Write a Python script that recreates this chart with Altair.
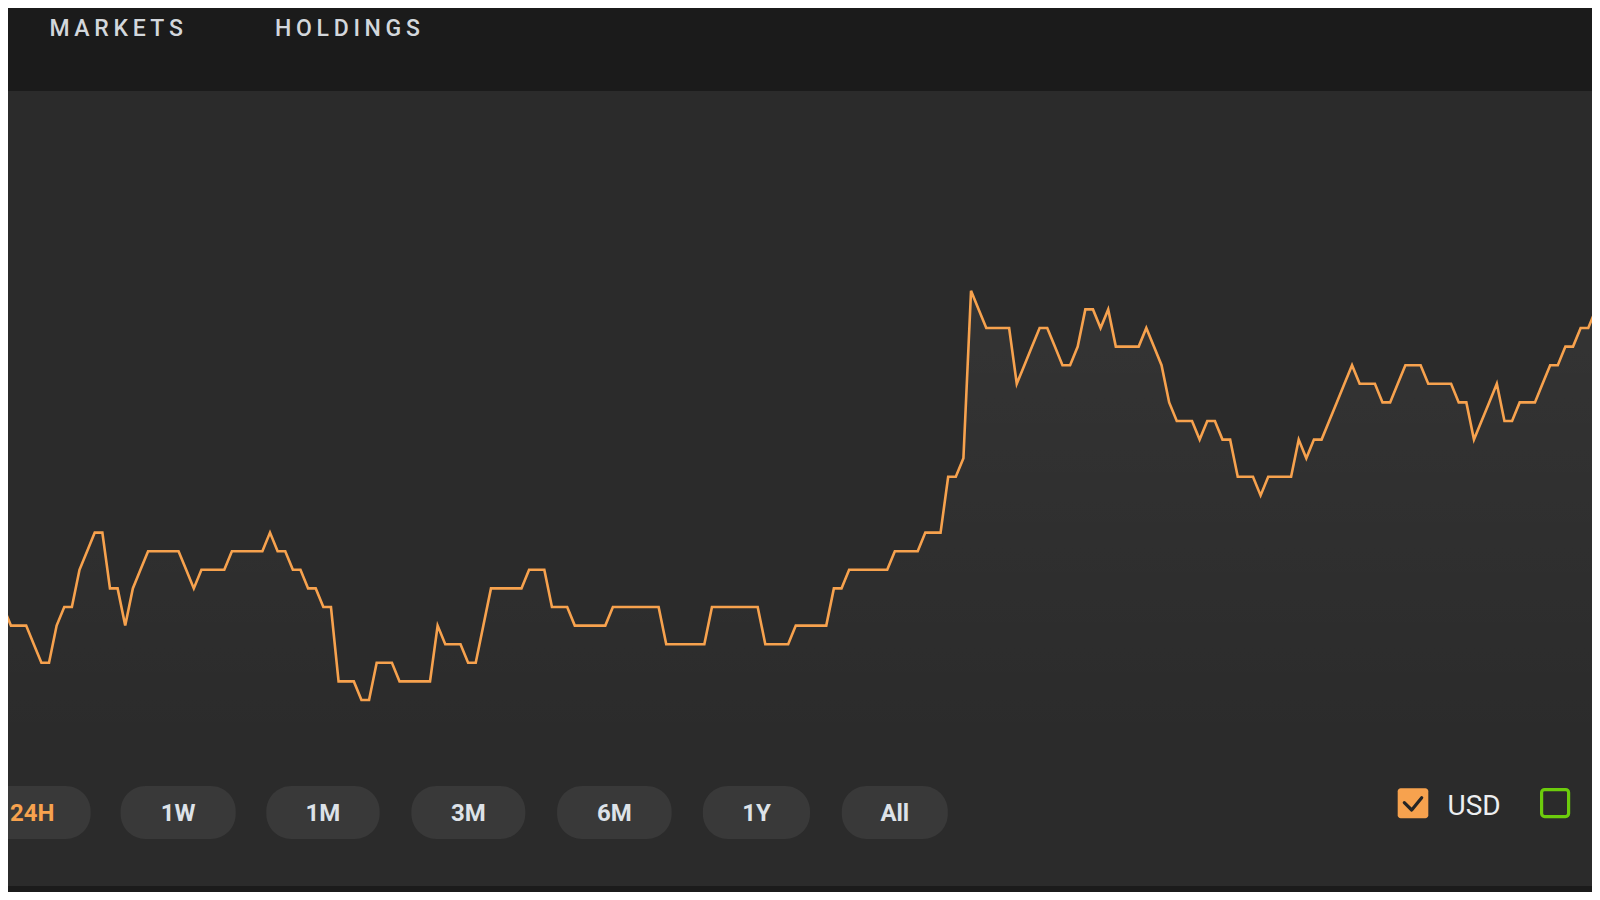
import altair as alt
import pandas as pd

# ---------------- data ----------------
PRICE = [
    5, 4, 4, 4, 3, 2, 2, 4, 5, 5,
    7, 8, 9, 9, 6, 6, 4, 6, 7, 8,
    8, 8, 8, 8, 7, 6, 7, 7, 7, 7,
    8, 8, 8, 8, 8, 9, 8, 8, 7, 7,
    6, 6, 5, 5, 1, 1, 1, 0, 0, 2,
    2, 2, 1, 1, 1, 1, 1, 4, 3, 3,
    3, 2, 2, 4, 6, 6, 6, 6, 6, 7,
    7, 7, 5, 5, 5, 4, 4, 4, 4, 4,
    5, 5, 5, 5, 5, 5, 5, 3, 3, 3,
    3, 3, 3, 5, 5, 5, 5, 5, 5, 5,
    3, 3, 3, 3, 4, 4, 4, 4, 4, 6,
    6, 7, 7, 7, 7, 7, 7, 8, 8, 8,
    8, 9, 9, 9, 12, 12, 13, 22, 21, 20,
    20, 20, 20, 17, 18, 19, 20, 20, 19, 18,
    18, 19, 21, 21, 20, 21, 19, 19, 19, 19,
    20, 19, 18, 16, 15, 15, 15, 14, 15, 15,
    14, 14, 12, 12, 12, 11, 12, 12, 12, 12,
    14, 13, 14, 14, 15, 16, 17, 18, 17, 17,
    17, 16, 16, 17, 18, 18, 18, 17, 17, 17,
    17, 16, 16, 14, 15, 16, 17, 15, 15, 16,
    16, 16, 17, 18, 18, 19, 19, 20, 20, 21,
]
NAV_LABELS = ["MARKETS", "HOLDINGS"]
RANGE_LABELS = ["24H", "1W", "1M", "3M", "6M", "1Y", "All"]
ACTIVE_RANGE = "24H"
LEGEND_LABELS = ["USD"]

# ---------------- layout / style ----------------
W, H = 1584, 884
BG = "#2b2b2b"
BAR = "#1b1b1b"
ORANGE = "#f7a24e"
GREEN = "#6ccc0c"
FONT = "Roboto, 'Open Sans', 'DejaVu Sans', sans-serif"

# scale mapping (pixels of the plot)
X_OFF, X_STEP = -4.7, 7.62
Y_ZERO_PX, Y_UNIT_PX = 692.0, 18.6
x_dom = [(0 - X_OFF) / X_STEP, (W - X_OFF) / X_STEP]
y_dom = [(Y_ZERO_PX - H) / Y_UNIT_PX, Y_ZERO_PX / Y_UNIT_PX]

NAV_X = [41.5, 267.0]
BTN_X = [(-43, 82.6), (112.6, 227.7), (258.3, 371.6), (403.4, 517.3),
         (549.1, 663.6), (694.9, 802.0), (833.8, 939.8)]
BTN_TEXT_SHIFT = {"24H": 4.5}

df = pd.DataFrame({"t": list(range(len(PRICE))), "price": PRICE})
one = pd.DataFrame({"k": [0]})

xs = alt.X("t:Q", scale=alt.Scale(domain=x_dom, nice=False, zero=False), axis=None)
ys = alt.Y("price:Q", scale=alt.Scale(domain=y_dom, nice=False, zero=False), axis=None)

layers = []

# top and bottom bars
layers.append(alt.Chart(one).mark_rect(color=BAR).encode(
    x=alt.value(0), x2=alt.value(W), y=alt.value(0), y2=alt.value(83)))
layers.append(alt.Chart(one).mark_rect(color=BAR).encode(
    x=alt.value(0), x2=alt.value(W), y=alt.value(878), y2=alt.value(H)))

# nav labels (letter spaced)
for lab, xp in zip(NAV_LABELS, NAV_X):
    spaced = "\u2009".join(lab)
    layers.append(alt.Chart(one).mark_text(
        text=spaced, font=FONT, fontSize=23, fontWeight=500, color="#d3d7dc",
        align="left", baseline="alphabetic").encode(x=alt.value(xp), y=alt.value(27.7)))

# area under line (subtle gradient) and the line
area = alt.Chart(df).mark_area(
    clip=True,
    color=alt.Gradient(
        gradient="linear",
        stops=[alt.GradientStop(color="rgba(255,255,255,0.045)", offset=0),
               alt.GradientStop(color="rgba(255,255,255,0.0)", offset=1)],
        x1=1, x2=1, y1=0, y2=1),
).encode(x=xs, y=ys, y2=alt.datum(-2.5))
line = alt.Chart(df).mark_line(clip=True, color=ORANGE, strokeWidth=2.6,
                               strokeJoin="miter").encode(x=xs, y=ys)
layers += [area, line]

# range buttons
for lab, (x0, x1) in zip(RANGE_LABELS, BTN_X):
    layers.append(alt.Chart(one).mark_rect(color="#393939", cornerRadius=25).encode(
        x=alt.value(x0), x2=alt.value(x1), y=alt.value(778), y2=alt.value(831)))
    layers.append(alt.Chart(one).mark_text(
        text=lab, font=FONT, fontSize=24, fontWeight="bold",
        color=ORANGE if lab == ACTIVE_RANGE else "#dde2e8",
        align="center", baseline="alphabetic").encode(
        x=alt.value((x0 + x1) / 2 + BTN_TEXT_SHIFT.get(lab, 0)), y=alt.value(812.7)))

# legend: USD checked box
layers.append(alt.Chart(one).mark_rect(color=ORANGE, cornerRadius=3).encode(
    x=alt.value(1389.7), x2=alt.value(1420.3), y=alt.value(780.3), y2=alt.value(810.3)))
layers.append(alt.Chart(one).mark_point(
    shape="M-0.87,-0.06L-0.13,0.67L0.87,-0.56", filled=False, size=400,
    strokeWidth=3.2, color="#252525", opacity=1, strokeCap="round", strokeJoin="round").encode(
    x=alt.value(1405), y=alt.value(795.3)))
layers.append(alt.Chart(one).mark_text(
    text=LEGEND_LABELS[0], font=FONT, fontSize=28, color="#eceef0",
    align="left", baseline="alphabetic").encode(x=alt.value(1439.5), y=alt.value(807)))
# legend: second (unchecked) series box
layers.append(alt.Chart(one).mark_rect(fillOpacity=0, stroke=GREEN, strokeWidth=3.2,
                                        cornerRadius=3).encode(
    x=alt.value(1533.6), x2=alt.value(1560.6), y=alt.value(781.6), y2=alt.value(808.6)))

chart = alt.layer(*layers).properties(
    width=W, height=H, padding=0, autosize="none", background=BG
).configure_view(strokeWidth=0, fill=BG)

chart.save("out.html", embed_options={"renderer": "svg", "actions": False})
